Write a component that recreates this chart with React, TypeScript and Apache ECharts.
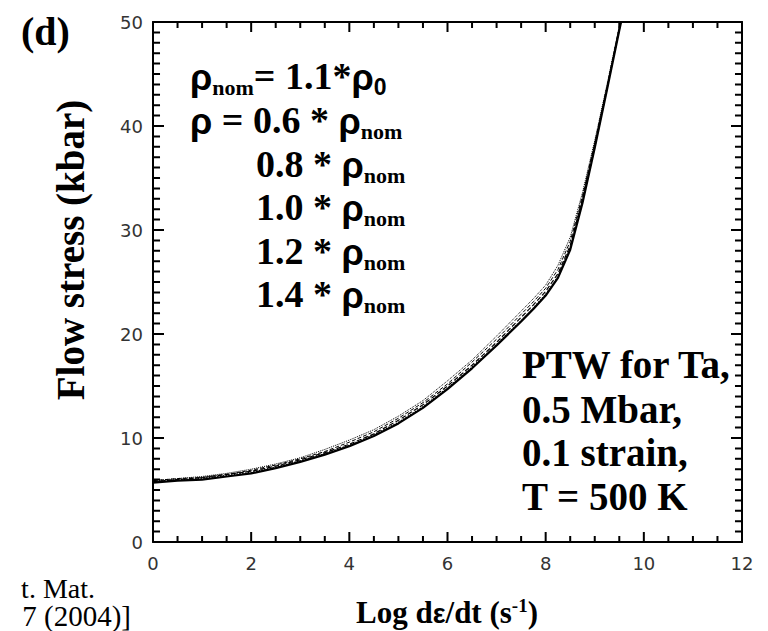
import React, { useEffect, useRef } from "react";
import * as echarts from "echarts";

// Log strain rate (x) and flow stress (kbar) for five dislocation densities
const logRate = [0, 0.5, 1, 1.5, 2, 2.5, 3, 3.5, 4, 4.5, 5, 5.5, 6, 6.5, 7, 7.5, 7.75, 8, 8.25, 8.5, 8.75, 9, 9.25, 9.5, 9.6];
const rho06 = [5.7, 5.9, 6.0, 6.3, 6.6, 7.1, 7.7, 8.4, 9.2, 10.2, 11.4, 12.9, 14.7, 16.7, 18.9, 21.2, 22.4, 23.7, 25.4, 28.1, 32.6, 37.9, 43.5, 49.2, 51.4];
const rho08 = [5.8, 6.0, 6.2, 6.5, 6.8, 7.3, 7.9, 8.6, 9.4, 10.4, 11.7, 13.2, 15.0, 17.0, 19.2, 21.6, 22.8, 24.1, 25.8, 28.5, 33.0, 38.2, 43.7, 49.4, 51.6];
const rho10 = [5.8, 6.0, 6.1, 6.4, 6.7, 7.2, 7.8, 8.5, 9.3, 10.3, 11.5, 13.0, 14.8, 16.8, 19.0, 21.3, 22.5, 23.8, 25.5, 28.3, 32.8, 38.0, 43.6, 49.3, 51.5];
const rho12 = [5.9, 6.1, 6.2, 6.5, 6.9, 7.4, 8.0, 8.7, 9.6, 10.6, 11.9, 13.4, 15.2, 17.3, 19.5, 21.9, 23.1, 24.4, 26.2, 28.9, 33.3, 38.4, 43.8, 49.5, 51.7];
const rho14 = [5.9, 6.1, 6.3, 6.6, 7.0, 7.5, 8.1, 8.9, 9.8, 10.8, 12.1, 13.6, 15.5, 17.5, 19.8, 22.2, 23.4, 24.7, 26.6, 29.3, 33.6, 38.6, 44.0, 49.6, 51.8];

const seriesNames = ["0.6 * rho_nom", "0.8 * rho_nom", "1.0 * rho_nom", "1.2 * rho_nom", "1.4 * rho_nom"];
const seriesValues = [rho06, rho08, rho10, rho12, rho14];
const seriesDash = ["solid", "dashed", "dotted", "dashed", "dotted"];
const seriesWidth = [2.2, 1.2, 1.4, 1, 1];

// Axis ticks (major every 2 / 10, minor every 0.5 / 1)
const xMajorTicks = [0, 2, 4, 6, 8, 10, 12];
const xTickValues = [0, 0.5, 1, 1.5, 2, 2.5, 3, 3.5, 4, 4.5, 5, 5.5, 6, 6.5, 7, 7.5, 8, 8.5, 9, 9.5, 10, 10.5, 11, 11.5, 12];
const yMajorTicks = [0, 10, 20, 30, 40, 50];
const yTickValues = [0, 1, 2, 3, 4, 5, 6, 7, 8, 9, 10, 11, 12, 13, 14, 15, 16, 17, 18, 19, 20, 21, 22, 23, 24, 25, 26, 27, 28, 29, 30, 31, 32, 33, 34, 35, 36, 37, 38, 39, 40, 41, 42, 43, 44, 45, 46, 47, 48, 49, 50];

const X_MIN = 0, X_MAX = 12, Y_MIN = 0, Y_MAX = 50;
// tick lengths expressed in axis units (major / minor)
const X_TICK_LEN = [0.96, 0.58];
const Y_TICK_LEN = [0.224, 0.143];

const SERIF = "'Liberation Serif', 'Times New Roman', serif";
const SANS = "'Liberation Sans', Arial, sans-serif";

export default function App() {
  const ref = useRef<HTMLDivElement>(null);
  useEffect(() => {
    if (!ref.current) return;
    const chart = echarts.init(ref.current, null, { renderer: "svg" });
    const tickLabel = { color: "#333", fontFamily: "'DejaVu Sans', sans-serif", fontSize: 18 };
    const rhoRich = {
      r: { fontFamily: SANS, fontWeight: "bold", fontSize: 36, color: "#000", verticalAlign: "bottom", padding: [0, 0, 3, 0] },
      t: { fontFamily: SERIF, fontWeight: "bold", fontSize: 38, color: "#000", verticalAlign: "bottom", padding: [0, 0, 3, 0] },
      s: { fontFamily: SERIF, fontWeight: "bold", fontSize: 22, color: "#000", verticalAlign: "bottom" },
      z: { fontFamily: SANS, fontWeight: "bold", fontSize: 23, color: "#000", verticalAlign: "bottom" },
    };
    const rhoLine = (txt: string, x: number, y: number) => ({
      type: "text",
      left: x,
      top: y,
      style: { text: txt, rich: rhoRich },
    });
    const serifText = (txt: string, x: number, y: number, size: number, bold = true, align = "left") => ({
      type: "text",
      x,
      y,
      style: {
        text: txt,
        fontFamily: SERIF,
        fontWeight: bold ? "bold" : "normal",
        fontSize: size,
        fill: "#000",
        align,
        verticalAlign: "middle",
      },
    });
    const mkAxis = (extra: any) => ({
      type: "value",
      axisLine: { show: true, onZero: false, lineStyle: { color: "#000", width: 2 } },
      axisTick: { show: false },
      minorTick: { show: false },
      splitLine: { show: false },
      axisLabel: { show: false },
      ...extra,
    });

    // Tick segments in data space, separated by empty points
    const vertTicks: any[] = [];
    xTickValues.forEach((v) => {
      const l = xMajorTicks.indexOf(v) >= 0 ? X_TICK_LEN[0] : X_TICK_LEN[1];
      vertTicks.push([v, Y_MIN], [v, Y_MIN + l], ["-", "-"], [v, Y_MAX], [v, Y_MAX - l], ["-", "-"]);
    });
    const horizTicks: any[] = [];
    yTickValues.forEach((v) => {
      const l = yMajorTicks.indexOf(v) >= 0 ? Y_TICK_LEN[0] : Y_TICK_LEN[1];
      horizTicks.push([X_MIN, v], [X_MIN + l, v], ["-", "-"], [X_MAX, v], [X_MAX - l, v], ["-", "-"]);
    });
    const tickLine = (data: any[]) => ({
      type: "line",
      silent: true,
      clip: false,
      showSymbol: false,
      connectNulls: false,
      z: 5,
      lineStyle: { color: "#000", width: 2, type: "solid", cap: "butt" },
      data,
    });

    const option: any = {
      animation: false,
      backgroundColor: "#fff",
      grid: { left: 153, right: 26, top: 22, bottom: 89, containLabel: false },
      xAxis: [
        mkAxis({
          min: X_MIN,
          max: X_MAX,
          interval: 2,
          position: "bottom",
          axisLabel: { show: true, ...tickLabel, margin: 12 },
        }),
        mkAxis({ min: X_MIN, max: X_MAX, interval: 2, position: "top" }),
      ],
      yAxis: [
        mkAxis({
          min: Y_MIN,
          max: Y_MAX,
          interval: 10,
          position: "left",
          axisLabel: { show: true, ...tickLabel, margin: 10 },
        }),
        mkAxis({ min: Y_MIN, max: Y_MAX, interval: 10, position: "right" }),
      ],
      series: [
        ...seriesValues.map((vals, i) => ({
          name: seriesNames[i],
          type: "line",
          showSymbol: false,
          lineStyle: { color: "#000", width: seriesWidth[i], type: seriesDash[i] },
          data: logRate.map((x, j) => [x, vals[j]]),
        })),
        tickLine(vertTicks),
        tickLine(horizTicks),
      ],
      graphic: [
        serifText("(d)", 21, 31, 40),
        {
          type: "text",
          x: 70,
          y: 250,
          rotation: Math.PI / 2,
          style: {
            text: "Flow stress (kbar)",
            fontFamily: SERIF,
            fontWeight: "bold",
            fontSize: 39,
            fill: "#000",
            align: "center",
            verticalAlign: "middle",
          },
        },
        {
          type: "text",
          x: 447,
          y: 612,
          style: {
            text: "{t|Log d}{e|ε}{t|/dt (s}{u|-1}{t|)}",
            align: "center",
            verticalAlign: "middle",
            rich: {
              t: { fontFamily: SERIF, fontWeight: "bold", fontSize: 31, color: "#000", verticalAlign: "bottom" },
              e: { fontFamily: SANS, fontWeight: "bold", fontSize: 27, color: "#000", verticalAlign: "bottom", padding: [0, 0, 1, 0] },
              u: { fontFamily: SERIF, fontWeight: "bold", fontSize: 19, color: "#000", verticalAlign: "bottom", padding: [0, 0, 13, 0] },
            },
          },
        },
        rhoLine("{r|ρ}{s|nom}{t|= 1.1*}{r|ρ}{z|0}", 190, 57),
        rhoLine("{r|ρ}{t| = 0.6 * }{r|ρ}{s|nom}", 190, 101),
        rhoLine("{t|0.8 * }{r|ρ}{s|nom}", 256, 145),
        rhoLine("{t|1.0 * }{r|ρ}{s|nom}", 256, 188),
        rhoLine("{t|1.2 * }{r|ρ}{s|nom}", 256, 232),
        rhoLine("{t|1.4 * }{r|ρ}{s|nom}", 256, 275),
        serifText("PTW for Ta,", 522, 364, 39),
        serifText("0.5 Mbar,", 522, 409, 39),
        serifText("0.1 strain,", 522, 452, 39),
        serifText("T = 500 K", 522, 496, 39),
        serifText("t. Mat.", 95, 588, 28, false, "right"),
        serifText("7 (2004)]", 131, 616, 29, false, "right"),
      ],
    };
    chart.setOption(option);
    return () => chart.dispose();
  }, []);
  return <div ref={ref} style={{ width: 768, height: 631, position: "absolute", left: 0, top: 0 }} />;
}
